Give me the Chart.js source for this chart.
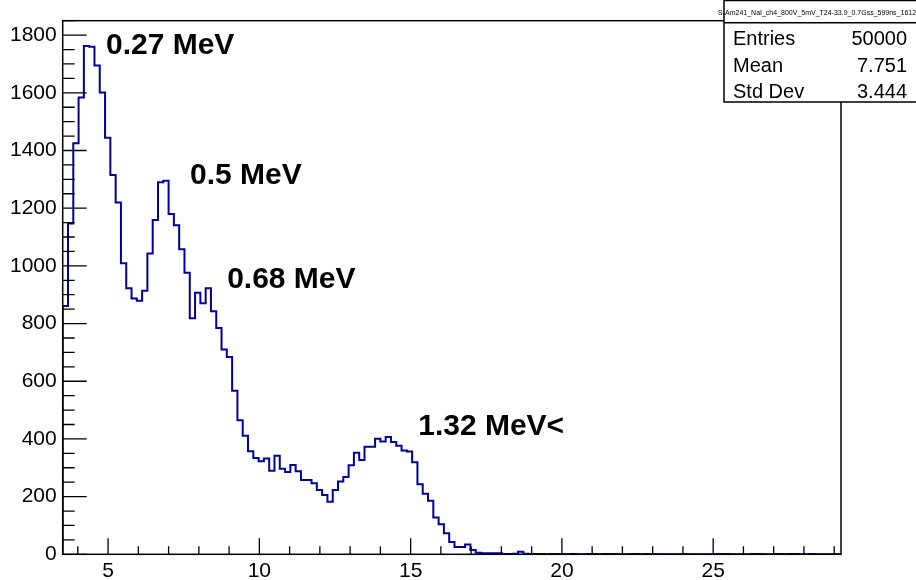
<!DOCTYPE html>
<html>
<head>
<meta charset="utf-8">
<title>Am241 NaI spectrum</title>
<script src="https://cdn.jsdelivr.net/npm/chart.js@4.4.1/dist/chart.umd.min.js"></script>
<style>
  html, body { margin: 0; padding: 0; background: #fff; }
  #wrap { position: relative; width: 916px; height: 580px; }
</style>
</head>
<body>
<div id="wrap"><canvas id="spectrum" width="916" height="580"></canvas></div>
<script>
// histogram binning (147 bins)
const xMin = 3.5;
const binWidth = 0.175;

// bin contents
const counts = [
    861, 1147, 1425, 1584, 1762, 1760, 1695, 1601, 1444, 1315,
    1220, 1009, 922, 887, 879, 914, 1043, 1159, 1290, 1295,
    1180, 1141, 1058, 976, 818, 907, 870, 922, 843, 785,
    710, 684, 567, 465, 411, 357, 334, 323, 332, 290,
    342, 297, 285, 310, 288, 258, 258, 246, 223, 206,
    182, 223, 252, 268, 309, 352, 327, 373, 373, 401,
    391, 407, 389, 376, 360, 356, 319, 243, 210, 186,
    128, 104, 73, 43, 25, 25, 34, 15, 5, 4,
    4, 4, 4, 1, 1, 2, 9, 2, 1, 1,
    1, 0, 1, 1, 1, 0, 1, 0, 0, 1,
    1, 0, 1, 1, 1, 0, 0, 1, 1, 0,
    1, 1, 0, 0, 0, 0, 0, 1, 0, 0,
    0, 0, 0, 1, 1, 1, 0, 0, 0, 0,
    1, 1, 0, 0, 1, 1, 0, 1, 1, 0,
    0, 1, 0, 0, 0, 0, 0
];

const xTicks = [5, 10, 15, 20, 25];
const yTicks = [0, 200, 400, 600, 800, 1000, 1200, 1400, 1600, 1800];
const yMax = 1850;

// peak annotations (data coordinates: left edge / baseline)
const peakLabels = ['0.27 MeV', '0.5 MeV', '0.68 MeV', '1.32 MeV<'];
const peakX = [4.93, 7.71, 8.935, 15.25];
const peakY = [1734, 1285, 925, 413];

const histTitle = 'S-Am241_NaI_ch4_800V_5mV_T24-33.9_0.7Gss_599ns_16122019_0cm';
const statNames = ['Entries', 'Mean', 'Std Dev'];
const statValues = ['50000', '7.751', '3.444'];

const FONT = '"Liberation Sans", Arial, Helvetica, sans-serif';
const xMax = xMin + counts.length * binWidth;

// step points: left edge of each bin, closing point at the right edge
const points = [{ x: xMin, y: 0 }];
counts.forEach((c, i) => points.push({ x: xMin + i * binWidth, y: c }));
points.push({ x: xMax, y: counts[counts.length - 1] });

// ROOT style frame with inward ticks, stats box and labels
const rootStyle = {
    id: 'rootStyle',
    afterDatasetsDraw(chart) {
        const { ctx, chartArea: a, scales: { x, y } } = chart;
        ctx.save();
        ctx.strokeStyle = '#000';
        ctx.lineWidth = 1.3;
        ctx.beginPath();
        for (let v = Math.ceil(x.min); v <= x.max; v++) {
            const px = x.getPixelForValue(v);
            const len = xTicks.includes(v) ? 16 : 8;
            ctx.moveTo(px, a.bottom);
            ctx.lineTo(px, a.bottom - len);
        }
        for (let v = 0; v <= y.max; v += 50) {
            const py = y.getPixelForValue(v);
            const len = v % 200 === 0 ? 24 : 12;
            ctx.moveTo(a.left, py);
            ctx.lineTo(a.left + len, py);
        }
        ctx.stroke();
        ctx.lineWidth = 1.5;
        ctx.strokeRect(a.left, a.top, a.right - a.left, a.bottom - a.top);
        ctx.restore();
    },
    afterDraw(chart) {
        const { ctx, scales: { x, y } } = chart;
        ctx.save();
        ctx.fillStyle = '#000';
        ctx.textBaseline = 'alphabetic';
        ctx.font = 'bold 30px ' + FONT;
        peakLabels.forEach((t, i) => {
            ctx.fillText(t, x.getPixelForValue(peakX[i]), y.getPixelForValue(peakY[i]));
        });

        // stats box
        const bx = 724, by = 0.5, bw = 200, bh = 101.5;
        ctx.fillStyle = '#fff';
        ctx.fillRect(bx, by, bw, bh);
        ctx.strokeStyle = '#000';
        ctx.lineWidth = 1.5;
        ctx.strokeRect(bx, by, bw, bh);
        ctx.beginPath();
        ctx.moveTo(bx, 22.7);
        ctx.lineTo(bx + bw, 22.7);
        ctx.stroke();

        ctx.fillStyle = '#000';
        ctx.font = '7px ' + FONT;
        ctx.textAlign = 'left';
        ctx.fillText(histTitle, 718, 15);

        ctx.font = '20px ' + FONT;
        statNames.forEach((n, i) => {
            const base = 45 + i * 26.7;
            ctx.textAlign = 'left';
            ctx.fillText(n, 733, base);
            ctx.textAlign = 'right';
            ctx.fillText(statValues[i], 907, base);
        });
        ctx.restore();
    }
};

new Chart(document.getElementById('spectrum'), {
    type: 'line',
    data: {
        datasets: [{
            data: points,
            stepped: true,
            borderColor: '#000099',
            borderWidth: 2,
            pointRadius: 0,
            fill: false,
            tension: 0
        }]
    },
    options: {
        responsive: false,
        animation: false,
        devicePixelRatio: 1,
        layout: { padding: { top: 20.7, right: 75, bottom: 0, left: 0 } },
        plugins: { legend: { display: false }, tooltip: { enabled: false } },
        scales: {
            x: {
                type: 'linear',
                min: xMin,
                max: xMax,
                afterBuildTicks: s => { s.ticks = xTicks.map(v => ({ value: v })); },
                afterFit: s => { s.height = 25.7; },
                grid: { display: false, drawTicks: false },
                border: { display: false },
                ticks: {
                    autoSkip: false,
                    maxRotation: 0,
                    padding: 4,
                    color: '#000',
                    font: { family: FONT, size: 21 },
                    callback: v => String(v)
                }
            },
            y: {
                type: 'linear',
                min: 0,
                max: yMax,
                afterBuildTicks: s => { s.ticks = yTicks.map(v => ({ value: v })); },
                afterFit: s => { s.width = 62.7; },
                grid: { display: false, drawTicks: false },
                border: { display: false },
                ticks: {
                    padding: 6,
                    color: '#000',
                    font: { family: FONT, size: 21 },
                    callback: v => String(v)
                }
            }
        }
    },
    plugins: [rootStyle]
});
</script>
</body>
</html>
